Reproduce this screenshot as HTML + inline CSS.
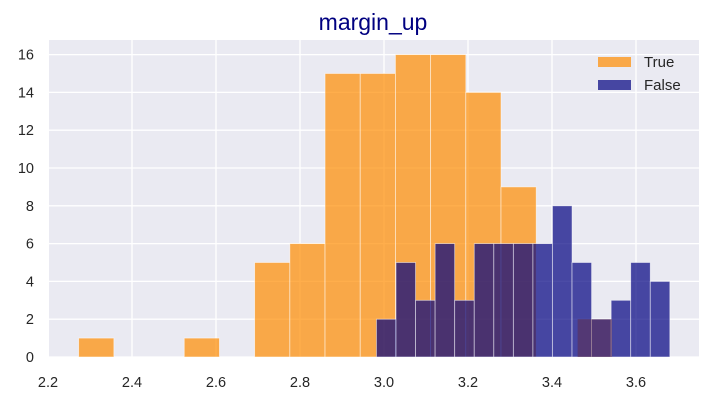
<!DOCTYPE html>
<html><head><meta charset="utf-8"><style>
body{margin:0;background:#fff;}
svg{display:block;font-family:"Liberation Sans",Arial,sans-serif;}
</style></head><body>
<svg id="c" width="714" height="402"></svg>
<script>
const trueEdgeStart = 2.273, trueBinWidth = 0.0838;
const trueCounts = [1,0,0,1,0,5,6,15,15,16,16,14,9];
const falseEdgeStart = 2.982, falseBinWidth = 0.04657;
const falseCounts = [2,5,3,6,3,6,6,6,6,8,5,2,3,5,4];
const overlapStart = [3.461], overlapEnd = [3.543], overlapCounts = [2];
const xTicks = [2.2,2.4,2.6,2.8,3.0,3.2,3.4,3.6];
const xTickLabels = ["2.2","2.4","2.6","2.8","3.0","3.2","3.4","3.6"];
const yTicks = [0,2,4,6,8,10,12,14,16];

const NS="http://www.w3.org/2000/svg", svg=document.getElementById('c');
const L=49,R=699,T=40,B=357;
const xs=v=>48+(v-2.2)*420, ys=v=>357-v*18.9;
function mk(t,a,p){const e=document.createElementNS(NS,t);for(const k in a)e.setAttribute(k,a[k]);(p||svg).appendChild(e);return e;}
const bg=mk('rect',{x:L,y:T,width:R-L,height:B-T,fill:'#eaeaf2'});


xTicks.forEach((v,i)=>{
  const g=mk('line',{x1:xs(v),x2:xs(v),y1:T,y2:B,stroke:'#fff','stroke-width':1.3});
  
  
  const t=mk('text',{x:xs(v),y:387,'text-anchor':'middle','font-size':14.5,fill:'#262626'});
  t.textContent=xTickLabels[i];
  
  
});
yTicks.forEach(v=>{
  const g=mk('line',{x1:L,x2:R,y1:ys(v),y2:ys(v),stroke:'#fff','stroke-width':1.3});
  
  
  const t=mk('text',{x:34,y:ys(v)+5,'text-anchor':'end','font-size':14.5,fill:'#262626'});
  t.textContent=v;
  
  
});
trueCounts.forEach((c,i)=>{
  if(!c)return;
  const x0=xs(trueEdgeStart+i*trueBinWidth),x1=xs(trueEdgeStart+(i+1)*trueBinWidth);
  const r=mk('rect',{x:x0,y:ys(c),width:x1-x0,height:ys(0)-ys(c),fill:'rgba(255,140,0,0.7)',stroke:'rgba(255,255,255,0.6)','stroke-width':0.8});
  
  
});
falseCounts.forEach((c,i)=>{
  const x0=xs(falseEdgeStart+i*falseBinWidth),x1=xs(falseEdgeStart+(i+1)*falseBinWidth);
  const r=mk('rect',{x:x0,y:ys(c),width:x1-x0,height:ys(0)-ys(c),fill:'rgba(0,0,128,0.7)',stroke:'rgba(255,255,255,0.6)','stroke-width':0.8});
  
  
});
overlapCounts.forEach((c,i)=>{
  const x0=xs(overlapStart[i]),x1=xs(overlapEnd[i]);
  const r=mk('rect',{x:x0,y:ys(c),width:x1-x0,height:ys(0)-ys(c),fill:'rgba(100,40,60,0.45)'});
  
  
});
const title=mk('text',{x:373,y:30,'text-anchor':'middle','font-size':23,fill:'#000080'});
title.textContent='margin_up';


const lg=mk('g',{});


const e1=mk('rect',{x:598,y:57,width:33,height:10,fill:'rgba(255,140,0,0.7)'},lg);


const t1=mk('text',{x:644,y:67,'font-size':15,fill:'#262626'},lg);t1.textContent='True';


const e2=mk('rect',{x:598,y:80,width:33,height:10,fill:'rgba(0,0,128,0.7)'},lg);


const t2=mk('text',{x:644,y:90,'font-size':15,fill:'#262626'},lg);t2.textContent='False';


</script>
</body></html>
